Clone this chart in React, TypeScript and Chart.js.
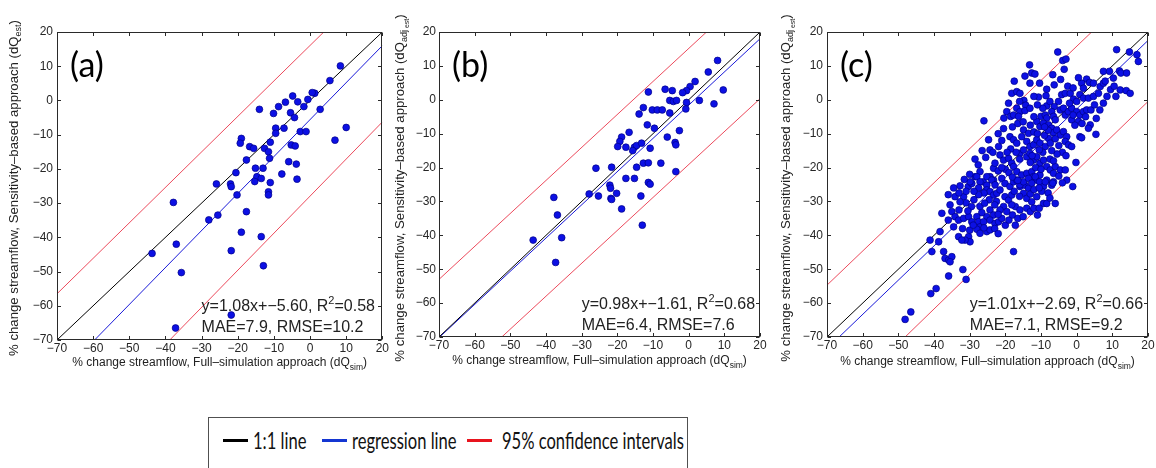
import React, { useEffect, useRef } from 'react';
import { Chart, registerables } from 'chart.js';

Chart.register(...registerables);

// ---------- data ----------
const TICKS = [-70, -60, -50, -40, -30, -20, -10, 0, 10, 20];
const TICK_LABELS = ['\u221270', '\u221260', '\u221250', '\u221240', '\u221230', '\u221220', '\u221210', '0', '10', '20'];

const ONE_TO_ONE = [[-70, -70], [20, 20]];

// panel (a)
const A_POINTS = [
  [8.4, 10.1], [5.5, 5.8], [1.3, 2.1], [0.6, 2.3], [-0.6, 0.3], [-4.8, 1.3], [-3.4, -0.4], [-6.8, -0.5],
  [-8.7, -1.8], [-1.7, -1.8], [2.8, -2.6], [-14.0, -2.6], [-10.1, -3.8], [-5.4, -3.6], [-4.3, -5.0],
  [-9.5, -8.1], [-7.2, -8.1], [-9.5, -9.6], [-2.7, -9.1], [-1.1, -9.1], [10.0, -7.9], [6.9, -11.6],
  [-19.0, -11.1], [-19.3, -12.5], [-16.7, -13.5], [-15.6, -14.0], [-12.6, -14.0], [-11.5, -15.0],
  [-11.0, -12.2], [-5.2, -13.0], [-4.1, -13.3], [-11.2, -16.9], [-17.6, -17.4], [-5.9, -17.9], [-3.8, -18.6],
  [-20.5, -21.1], [-15.1, -19.8], [-13.0, -19.8], [-14.7, -22.3], [-13.5, -22.8], [-15.3, -23.7],
  [-7.8, -21.5], [-3.6, -23.0], [-25.9, -24.4], [-22.0, -24.4], [-21.8, -25.2], [-11.0, -24.0],
  [-11.5, -26.7], [-11.5, -27.6], [-20.2, -27.6], [-17.6, -32.5], [-25.5, -33.5], [-28.0, -34.9],
  [-19.0, -38.5], [-13.5, -39.8], [-21.8, -43.9], [-12.9, -48.3], [-35.6, -50.3], [-21.8, -62.7],
  [-37.8, -29.8], [-37.0, -42.0], [-43.7, -44.7], [-37.2, -66.5]
];
const A_REG = [[-59.6, -70], [20, 16]];
const A_CI_UP = [[-70, -56.5], [3.8, 20]];
const A_CI_LO = [[-38.8, -70], [20, -6.3]];
const A_EQ = ['y=1.08x+\u22125.60, R', '2', '=0.58'];
const A_ERR = 'MAE=7.9, RMSE=10.2';

// panel (b)
const B_POINTS = [
  [8.1, 11.6], [5.5, 8.2], [9.7, 2.9], [7.1, -1.2], [1.8, 5.4], [0.4, 3.9], [-0.6, 2.7], [-1.7, 2.1],
  [-6.6, 3.1], [-4.6, 2.7], [-11.3, 2.3], [-5.3, -0.2], [-4.3, -0.5], [-3.4, -0.2], [-0.6, -0.8],
  [3.0, -0.2], [-0.8, -2.7], [-5.3, -3.9], [-12.7, -2.3], [-10.2, -3.0], [-8.8, -3.0], [-7.4, -3.0],
  [-13.9, -4.2], [-11.6, -7.4], [-9.6, -8.4], [-16.7, -9.6], [-18.8, -11.0], [-19.3, -12.3],
  [-19.9, -13.8], [-17.6, -14.0], [-15.2, -14.0], [-14.6, -13.5], [-15.7, -15.0], [-13.2, -12.8],
  [-10.8, -14.3], [-6.0, -11.0], [-3.8, -12.6], [-3.6, -13.3], [-2.6, -9.1], [-14.6, -19.9],
  [-12.7, -18.7], [-11.3, -18.6], [-7.8, -18.7], [-26.0, -20.2], [-21.6, -19.9], [-17.6, -23.2],
  [-15.2, -23.2], [-3.6, -21.2], [-22.1, -25.2], [-21.9, -26.1], [-11.3, -24.4], [-10.8, -24.9],
  [-27.9, -27.8], [-25.3, -28.4], [-21.8, -29.1], [-21.6, -29.4], [-20.2, -27.6], [-13.4, -28.4],
  [-18.8, -32.2], [-13.0, -37.0], [-37.8, -28.8], [-36.8, -34.0], [-35.6, -40.7], [-37.3, -48.0],
  [-43.6, -41.4]
];
const B_REG = [[-69.8, -70], [20, 18]];
const B_CI_UP = [[-70, -53], [5, 20]];
const B_CI_LO = [[-52.4, -70], [20, 0.3]];
const B_EQ = ['y=0.98x+\u22121.61, R', '2', '=0.68'];
const B_ERR = 'MAE=6.4, RMSE=7.6';

// panel (c)
const C_POINTS = [
  [-5.3, 14.1], [11.2, 14.8], [14.8, 14.1], [16.9, 13.3], [17.3, 11.3], [-3.9, 11.6], [-3.0, 12.0],
  [-13.2, 10.3], [-3.5, 9.0], [-12.6, 7.9], [-11.7, 7.6], [-6.7, 7.4], [7.5, 8.4], [9.2, 8.4], [12.0, 8.5],
  [12.4, 7.9], [14.0, 7.9], [10.3, 6.4], [-13.1, 4.9], [-10.4, 4.9], [-6.3, 4.4], [2.8, 6.1], [3.6, 5.1],
  [4.7, 4.9], [6.6, 3.9], [7.5, 4.9], [1.4, 4.9], [1.9, 3.4], [12.2, 2.9], [13.9, 2.7], [15.0, 1.9],
  [-8.4, 3.1], [-18.2, 1.9], [-16.8, 2.4], [-15.9, 1.9], [-19.1, -1.0], [-14.8, -0.2], [-14.3, -1.6],
  [-10.7, 0.8], [-8.6, 1.2], [-4.2, 1.5], [-3.2, 1.9], [-1.8, 1.9], [-0.9, 0.2], [0.0, -0.5], [0.9, 1.5],
  [1.9, 0.5], [3.3, 0.5], [4.7, 1.0], [6.1, 1.9], [-5.1, -0.5], [-8.4, -1.8], [-6.3, -2.0], [-16.8, -2.5],
  [-15.9, -3.5], [-14.5, -3.2], [-13.1, -2.5], [-19.6, -3.5], [-20.4, -5.4], [-18.5, -4.9], [-17.7, -4.5],
  [-16.3, -4.9], [-26.0, -6.2], [-10.0, -4.9], [-8.8, -4.5], [-8.4, -5.4], [-7.0, -3.5], [-6.5, -4.9],
  [-6.0, -5.9], [-4.6, -3.0], [-3.7, -2.5], [-3.2, -4.5], [-2.3, -3.5], [-1.4, -2.5], [0.0, -3.5],
  [0.9, -4.5], [1.9, -3.5], [2.8, -3.0], [-1.4, -5.9], [0.5, -6.4], [3.8, -7.4], [3.3, -8.4], [0.9, -10.9],
  [1.4, -11.2], [5.4, -10.2], [-11.2, -6.4], [-10.3, -7.9], [-9.3, -6.9], [-7.9, -7.4], [-7.0, -8.4],
  [-6.5, -9.7], [-5.6, -8.9], [-4.6, -10.4], [-3.7, -9.4], [-2.8, -10.9], [-3.2, -12.3], [-2.3, -13.3],
  [-1.4, -13.8], [-14.9, -8.9], [-13.5, -9.9], [-15.4, -10.9], [-18.7, -10.9], [-17.7, -11.8],
  [-16.8, -12.8], [-14.0, -12.3], [-13.1, -13.8], [-12.1, -13.3], [-11.2, -11.8], [-10.3, -12.8],
  [-8.8, -13.8], [-7.9, -11.4], [-7.4, -12.8], [-24.7, -11.8], [-24.3, -14.8], [-21.9, -13.8],
  [-21.5, -16.3], [-20.5, -17.8], [-19.1, -17.3], [-18.2, -18.7], [-23.3, -20.2], [-22.9, -18.7],
  [-27.6, -19.2], [-27.1, -21.2], [-24.3, -22.7], [-23.3, -23.7], [-26.2, -24.2], [-25.2, -25.2],
  [-28.5, -22.7], [-30.4, -25.6], [-29.4, -24.7], [-32.7, -25.4], [-15.9, -15.8], [-14.9, -14.8],
  [-14.0, -16.8], [-13.1, -15.8], [-12.1, -17.8], [-11.2, -16.8], [-10.3, -18.7], [-9.3, -17.8],
  [-8.4, -19.7], [-7.4, -20.7], [-6.0, -19.7], [-4.6, -20.7], [-17.7, -19.7], [-16.8, -21.2],
  [-15.4, -22.2], [-14.0, -21.7], [-12.6, -21.2], [-12.1, -22.7], [-11.2, -23.7], [-10.3, -22.2],
  [-9.3, -24.7], [-8.4, -23.7], [-7.0, -25.2], [-6.5, -24.2], [-3.2, -20.7], [-2.8, -23.7], [-1.1, -25.6],
  [-21.0, -23.2], [-20.1, -24.7], [-18.7, -25.6], [-17.7, -24.2], [-15.9, -25.6], [-14.5, -25.2],
  [-13.5, -26.1], [-0.2, -18.5],
  [-29.9, -24.2], [-28.0, -22.7], [-27.1, -24.2], [-25.2, -22.7], [-23.8, -23.7], [-22.9, -25.1],
  [-25.2, -26.6], [-24.3, -27.1], [-23.3, -28.1], [-22.4, -27.6], [-21.5, -26.6], [-20.1, -28.6],
  [-19.1, -29.6], [-18.2, -28.1], [-16.8, -23.7], [-15.9, -25.1], [-14.9, -24.2], [-13.5, -23.2],
  [-12.6, -24.6], [-11.6, -22.7], [-10.4, -24.2], [-9.3, -25.6], [-8.8, -24.2], [-6.5, -21.7],
  [-6.7, -24.6], [-14.9, -27.6], [-14.0, -29.1], [-12.6, -30.1], [-11.2, -28.6], [-9.3, -30.6],
  [-8.4, -30.6], [-6.0, -30.6], [-17.2, -31.5], [-15.9, -32.5], [-14.0, -32.0], [-20.5, -31.5],
  [-19.6, -33.0], [-18.2, -31.0], [-24.3, -32.5], [-23.3, -34.0], [-25.2, -34.5], [-27.1, -31.5],
  [-26.6, -33.3], [-28.0, -34.5], [-31.7, -28.6], [-31.0, -30.4], [-34.1, -28.6], [-32.7, -30.1],
  [-37.8, -33.5], [-35.0, -33.0], [-34.1, -34.5], [-33.1, -35.5], [-31.7, -35.0], [-30.3, -34.5],
  [-29.4, -36.0], [-27.5, -36.0], [-27.1, -37.5], [-26.1, -36.0], [-24.3, -35.5], [-22.9, -36.5],
  [-21.9, -36.0], [-21.0, -35.0], [-28.0, -38.2], [-27.1, -39.4], [-25.2, -38.9], [-24.3, -38.4],
  [-30.3, -40.4], [-29.9, -41.9], [-31.3, -41.4], [-33.1, -40.4], [-32.2, -41.4], [-17.2, -37.0],
  [-17.7, -44.8], [-38.3, -38.9], [-41.1, -41.4], [-38.7, -41.9], [-40.6, -44.8], [-37.3, -44.8],
  [-36.9, -46.8], [-35.9, -47.3], [-35.0, -46.3], [-35.5, -47.8], [-35.9, -52.0], [-31.9, -50.1],
  [-31.0, -53.0], [-40.9, -57.2], [-39.4, -55.7], [-48.1, -64.8], [-46.5, -62.6],
  [-18.0, -8.0], [-16.5, -7.0], [-15.0, -6.5], [-13.0, -7.5], [-12.0, -9.5], [-11.0, -10.0], [-9.0, -10.5],
  [-8.0, -9.0], [-6.0, -11.5], [-5.0, -13.5], [-4.0, -15.5], [-3.0, -16.5], [-5.5, -16.0], [-7.0, -15.0],
  [-9.5, -15.5], [-10.5, -14.8], [-12.5, -16.5], [-16.0, -17.5], [-17.0, -15.5], [-18.5, -14.5],
  [-19.5, -15.5], [-20.0, -20.5], [-19.0, -21.5], [-18.0, -22.8], [-16.5, -23.8], [-13.0, -18.5],
  [-11.5, -20.0], [-10.0, -20.5], [-7.5, -17.5], [-6.5, -18.0], [-5.0, -22.5], [-4.0, -24.5],
  [-9.8, -27.0], [-8.0, -27.5], [-7.5, -29.0], [-16.0, -28.5], [-17.5, -27.0], [-13.0, -27.8],
  [-12.0, -26.5], [-10.5, -26.0],
  [-22.0, -21.0], [-21.0, -20.0], [-26.0, -27.5], [-27.5, -28.0], [-28.8, -29.5], [-29.5, -31.5],
  [-30.5, -32.8], [-33.0, -32.5], [-35.5, -31.0], [-36.0, -35.5], [-34.5, -37.5], [-32.0, -38.0],
  [-30.0, -38.5], [-29.0, -37.0], [-22.5, -30.0], [-21.5, -32.5], [-22.0, -33.8], [-23.0, -31.0],
  [-24.5, -29.5], [-25.8, -30.5], [-26.0, -37.8], [-23.0, -38.0], [-22.0, -39.5], [-20.0, -37.0],
  [-19.0, -35.5], [-18.0, -34.0], [-16.5, -35.0], [-15.0, -34.5], [-13.0, -33.0], [-12.0, -32.0],
  [-10.5, -32.0], [-11.0, -34.0], [-27.5, -26.0], [-28.8, -27.0], [-31.0, -27.0], [-33.0, -27.5],
  [-34.5, -26.0], [-36.0, -28.0], [-30.0, -22.0], [-31.5, -23.5],
  [-2.0, -1.0], [-1.0, -4.5], [-0.5, -7.5], [1.5, -7.0], [2.5, -5.0], [4.0, -3.0], [5.0, -1.5],
  [5.5, -5.5], [6.5, -3.0], [7.5, -1.0], [8.5, 1.0], [9.5, 3.0], [8.0, 5.5], [10.5, 4.0], [11.0, 1.0],
  [-2.5, 4.0], [-1.0, 3.5], [0.5, 6.5], [-4.5, 6.0], [-7.5, -0.5], [-9.5, -2.5], [-11.0, -1.5],
  [-12.0, -5.0], [-9.0, -8.0],
  [-23.5, -15.5], [-25.5, -17.0], [-26.5, -15.0], [-22.0, -10.0], [-20.5, -8.5], [-21.0, -12.0],
  [-28.5, -17.5], [-17.5, 5.5], [-14.5, 7.0], [-12.0, 1.0], [-16.0, -0.5]
];
const C_REG = [[-66.6, -70], [20, 17.5]];
const C_CI_UP = [[-70, -54.7], [4.2, 20]];
const C_CI_LO = [[-48.1, -70], [20, -0.5]];
const C_EQ = ['y=1.01x+\u22122.69, R', '2', '=0.66'];
const C_ERR = 'MAE=7.1, RMSE=9.2';

const LEGEND_LABELS = ['1:1 line', 'regression line', '95% confidence intervals'];
const LEGEND_COLORS = ['#000000', '#1436d2', '#e8141e'];

// ---------- drawing helpers ----------
const SANS = '"Liberation Sans", Arial, Helvetica, sans-serif';
type Part = { t: string; size: number; dy: number };

function partsWidth(ctx: CanvasRenderingContext2D, parts: Part[]) {
  let w = 0;
  for (const p of parts) {
    ctx.font = `${p.size}px ${SANS}`;
    w += ctx.measureText(p.t).width;
  }
  return w;
}
function drawParts(ctx: CanvasRenderingContext2D, parts: Part[], x: number, y: number, center: boolean) {
  let cx = center ? x - partsWidth(ctx, parts) / 2 : x;
  ctx.textAlign = 'left';
  ctx.textBaseline = 'alphabetic';
  for (const p of parts) {
    ctx.font = `${p.size}px ${SANS}`;
    ctx.fillText(p.t, cx, y + p.dy);
    cx += ctx.measureText(p.t).width;
  }
}

type PanelCfg = {
  id: string;
  label: string;
  points: number[][];
  reg: number[][];
  ciUp: number[][];
  ciLo: number[][];
  eq: string[];
  err: string;
  left: number;
  width: number;
  yAxisW: number;
  padRight: number;
  xAxisH: number;
  yTickPad: number;
  yTitleX: number;
  xTitleY: number;
  adj: boolean;
};

function Panel({ cfg }: { cfg: PanelCfg }) {
  const ref = useRef<HTMLCanvasElement | null>(null);
  useEffect(() => {
    const canvas = ref.current;
    if (!canvas) return;
    const toXY = (arr: number[][]) => arr.map(([x, y]) => ({ x, y }));
    const decor = {
      id: 'decor' + cfg.id,
      afterDatasetsDraw(chart: any) {
        const { ctx, chartArea: ca, scales } = chart;
        const xs = scales.x;
        const ys = scales.y;
        ctx.save();
        // box
        ctx.strokeStyle = '#2a2a2a';
        ctx.lineWidth = 1;
        const L = Math.round(ca.left) + 0.5;
        const T = Math.round(ca.top) + 0.5;
        const R = Math.round(ca.right) - 0.5;
        const B = Math.round(ca.bottom) - 0.5;
        ctx.strokeRect(L, T, R - L, B - T);
        // inward ticks on all four sides
        const TL = 3.5;
        ctx.beginPath();
        for (const v of TICKS) {
          const px = Math.round(xs.getPixelForValue(v)) + 0.5;
          ctx.moveTo(px, B);
          ctx.lineTo(px, B - TL);
          ctx.moveTo(px, T);
          ctx.lineTo(px, T + TL);
          const py = Math.round(ys.getPixelForValue(v)) + 0.5;
          ctx.moveTo(L, py);
          ctx.lineTo(L + TL, py);
          ctx.moveTo(R, py);
          ctx.lineTo(R - TL, py);
        }
        ctx.stroke();

        // panel label
        ctx.fillStyle = '#000';
        ctx.font = '34px Lato, "Open Sans", sans-serif';
        ctx.textAlign = 'left';
        ctx.textBaseline = 'alphabetic';
        ctx.fillText(cfg.label, ca.left + 13, 76.5);

        // statistics text
        ctx.fillStyle = '#222';
        const tx = xs.getPixelForValue(-30);
        drawParts(ctx, [
          { t: cfg.eq[0], size: 16, dy: 0 },
          { t: cfg.eq[1], size: 11, dy: -7 },
          { t: cfg.eq[2], size: 16, dy: 0 },
        ], tx, ys.getPixelForValue(-61.6), false);
        drawParts(ctx, [{ t: cfg.err, size: 16, dy: 0 }], tx, ys.getPixelForValue(-67.8), false);

        // x title
        drawParts(ctx, [
          { t: '% change streamflow, Full\u2013simulation approach (dQ', size: 12, dy: 0 },
          { t: 'sim', size: 8.5, dy: 4 },
          { t: ')', size: 12, dy: 0 },
        ], (ca.left + ca.right) / 2, cfg.xTitleY, true);

        // y title (rotated)
        ctx.translate(cfg.yTitleX, 188);
        ctx.rotate(-Math.PI / 2);
        const yParts: Part[] = cfg.adj
          ? [
              { t: '% change streamflow, Sensitivity\u2013based approach (dQ', size: 13.2, dy: 0 },
              { t: 'adj', size: 9, dy: 3.5 },
              { t: ' est', size: 7, dy: 5.5 },
              { t: ')', size: 13.2, dy: 0 },
            ]
          : [
              { t: '% change streamflow, Sensitivity\u2013based approach (dQ', size: 13.2, dy: 0 },
              { t: 'est', size: 9, dy: 3.5 },
              { t: ')', size: 13.2, dy: 0 },
            ];
        drawParts(ctx, yParts, 0, 4.5, true);
        ctx.restore();
      },
    };

    const lineDs = (data: number[][], color: string) => ({
      type: 'line' as const,
      data: toXY(data),
      borderColor: color,
      borderWidth: 1,
      pointRadius: 0,
      fill: false,
      showLine: true,
      tension: 0,
      order: 1,
    });

    const tickLabel = (v: any) => {
      const i = TICKS.indexOf(Number(v));
      return i >= 0 ? TICK_LABELS[i] : '';
    };

    const chart = new Chart(canvas, {
      type: 'scatter',
      data: {
        datasets: [
          {
            data: toXY(cfg.points),
            pointRadius: 3.4,
            pointHoverRadius: 3.4,
            backgroundColor: '#0c10e4',
            borderColor: '#000088',
            borderWidth: 0.7,
            order: 0,
          } as any,
          lineDs(ONE_TO_ONE, '#000000'),
          lineDs(cfg.reg, '#1a1ad8'),
          lineDs(cfg.ciUp, '#ec4a5c'),
          lineDs(cfg.ciLo, '#ec4a5c'),
        ],
      },
      options: {
        animation: false,
        responsive: false,
        maintainAspectRatio: false,
        events: [],
        layout: { padding: { left: 0, right: cfg.padRight, top: 32, bottom: 0 } },
        plugins: { legend: { display: false }, tooltip: { enabled: false } },
        scales: {
          x: {
            type: 'linear',
            min: -70,
            max: 20,
            afterBuildTicks: (s: any) => {
              s.ticks = TICKS.map((v) => ({ value: v }));
            },
            afterFit: (s: any) => {
              s.height = cfg.xAxisH;
            },
            ticks: {
              autoSkip: false,
              maxRotation: 0,
              minRotation: 0,
              padding: 1,
              color: '#262626',
              font: { family: SANS, size: 12 },
              callback: tickLabel,
            },
            grid: { display: false, drawTicks: false },
            border: { display: false },
          },
          y: {
            type: 'linear',
            min: -70,
            max: 20,
            afterBuildTicks: (s: any) => {
              s.ticks = TICKS.map((v) => ({ value: v }));
            },
            afterFit: (s: any) => {
              s.width = cfg.yAxisW;
            },
            ticks: {
              autoSkip: false,
              padding: cfg.yTickPad,
              color: '#262626',
              font: { family: SANS, size: 12 },
              callback: tickLabel,
            },
            grid: { display: false, drawTicks: false },
            border: { display: false },
          },
        },
      } as any,
      plugins: [decor],
    });
    return () => chart.destroy();
  }, [cfg]);

  return (
    <canvas
      ref={ref}
      width={cfg.width}
      height={380}
      style={{ position: 'absolute', left: cfg.left, top: 0, width: cfg.width, height: 380 }}
    />
  );
}

const PANELS: PanelCfg[] = [
  {
    id: 'a', label: '(a)', points: A_POINTS, reg: A_REG, ciUp: A_CI_UP, ciLo: A_CI_LO, eq: A_EQ, err: A_ERR,
    left: 0, width: 390, yAxisW: 57, padRight: 7, xAxisH: 40, yTickPad: 4, yTitleX: 13, xTitleY: 366, adj: false,
  },
  {
    id: 'b', label: '(b)', points: B_POINTS, reg: B_REG, ciUp: B_CI_UP, ciLo: B_CI_LO, eq: B_EQ, err: B_ERR,
    left: 390, width: 390, yAxisW: 49, padRight: 20, xAxisH: 43, yTickPad: 3, yTitleX: 9, xTitleY: 364, adj: true,
  },
  {
    id: 'c', label: '(c)', points: C_POINTS, reg: C_REG, ciUp: C_CI_UP, ciLo: C_CI_LO, eq: C_EQ, err: C_ERR,
    left: 780, width: 376, yAxisW: 47, padRight: 8, xAxisH: 43, yTickPad: 4, yTitleX: 5, xTitleY: 365, adj: true,
  },
];

function Legend() {
  const sampleLeft = [14, 113, 258];
  const textLeft = [44, 143, 293];
  return (
    <div
      style={{
        position: 'absolute',
        left: 208,
        top: 417,
        width: 480,
        height: 70,
        boxSizing: 'border-box',
        border: '1px solid #505050',
        background: '#fff',
      }}
    >
      {LEGEND_LABELS.map((lab, i) => (
        <React.Fragment key={lab}>
          <div
            style={{
              position: 'absolute',
              left: sampleLeft[i],
              top: 21,
              width: 25,
              height: 3,
              background: LEGEND_COLORS[i],
            }}
          />
          <div
            style={{
              position: 'absolute',
              left: textLeft[i],
              top: 7.6,
              fontFamily: 'Lato, "Open Sans", sans-serif',
              fontSize: 24,
              lineHeight: '28.8px',
              whiteSpace: 'nowrap',
              color: '#111',
              transform: 'scaleX(0.69)',
              transformOrigin: 'left top',
            }}
          >
            {lab}
          </div>
        </React.Fragment>
      ))}
    </div>
  );
}

export default function App() {
  return (
    <div
      style={{
        position: 'absolute',
        left: 0,
        top: 0,
        width: 1156,
        height: 468,
        overflow: 'hidden',
        background: '#fff',
      }}
    >
      {PANELS.map((p) => (
        <Panel key={p.id} cfg={p} />
      ))}
      <Legend />
    </div>
  );
}
